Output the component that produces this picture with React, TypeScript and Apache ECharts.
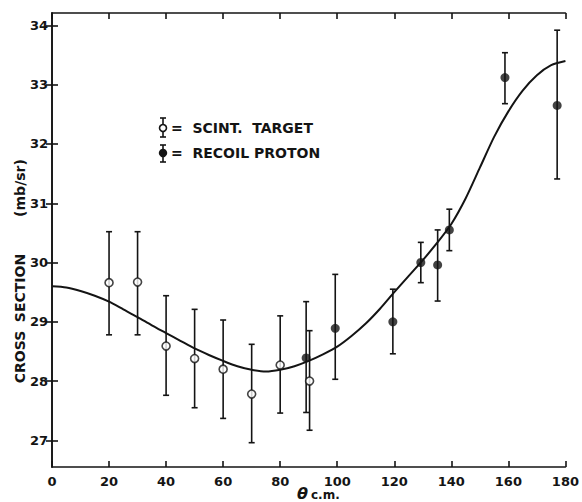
import React, { useEffect, useRef } from "react";
import * as echarts from "echarts";

// Scintillator target (open circles)
const scintTheta = [20, 30, 40, 50, 60, 70, 80, 90.3];
const scintSigma = [29.66, 29.67, 28.59, 28.38, 28.2, 27.78, 28.27, 28.0];
const scintLow = [28.78, 28.78, 27.76, 27.55, 27.37, 26.96, 27.46, 27.17];
const scintHigh = [30.52, 30.52, 29.44, 29.21, 29.03, 28.62, 29.1, 28.85];

// Recoil proton (filled circles)
const recoilTheta = [89.1, 99.3, 119.5, 129.3, 135.2, 139.3, 158.8, 177.1];
const recoilSigma = [28.39, 28.89, 29.0, 30.0, 29.96, 30.55, 33.12, 32.65];
const recoilLow = [27.47, 28.03, 28.46, 29.66, 29.35, 30.2, 32.68, 31.41];
const recoilHigh = [29.34, 29.8, 29.55, 30.34, 30.55, 30.9, 33.54, 33.92];

// Fitted curve (read every 5 degrees)
const curveTheta = [0, 5, 10, 15, 20, 25, 30, 35, 40, 45, 50, 55, 60, 65, 70, 75, 80, 85, 90, 95, 100, 105, 110, 115, 120, 125, 130, 135, 140, 145, 150, 155, 160, 165, 170, 175, 180];
const curveSigma = [29.6, 29.58, 29.52, 29.44, 29.34, 29.21, 29.08, 28.94, 28.81, 28.68, 28.55, 28.44, 28.34, 28.25, 28.19, 28.16, 28.19, 28.25, 28.34, 28.45, 28.58, 28.76, 28.97, 29.22, 29.5, 29.77, 30.04, 30.33, 30.65, 31.08, 31.6, 32.12, 32.55, 32.9, 33.16, 33.33, 33.4];

const yTicks = [27, 28, 29, 30, 31, 32, 33, 34];

const INK = "#141414";
const FONT = "DejaVu Sans";

function errorBarItem(params: any, api: any) {
  const x = api.value(0);
  const lo = api.value(1);
  const hi = api.value(2);
  const p1 = api.coord([x, hi]);
  const p2 = api.coord([x, lo]);
  const w = 3;
  const st = { stroke: INK, lineWidth: 1.6 };
  return {
    type: "group",
    children: [
      { type: "line", shape: { x1: p1[0], y1: p1[1], x2: p2[0], y2: p2[1] }, style: st },
      { type: "line", shape: { x1: p1[0] - w, y1: p1[1], x2: p1[0] + w, y2: p1[1] }, style: st },
      { type: "line", shape: { x1: p2[0] - w, y1: p2[1], x2: p2[0] + w, y2: p2[1] }, style: st },
    ],
  };
}

export default function App() {
  const ref = useRef<HTMLDivElement>(null);
  useEffect(() => {
    if (!ref.current) return;
    const chart = echarts.init(ref.current, null, { renderer: "svg" });
    const axisLine = { show: true, lineStyle: { color: INK, width: 1.6 } };
    const axisTick = { show: true, inside: true, length: 6, lineStyle: { color: INK, width: 1.6 } };
    const titleFont = `bold 14px "${FONT}"`;
    const option: any = {
      animation: false,
      backgroundColor: "#ffffff",
      grid: { left: 52, right: 7, top: 13, bottom: 35, containLabel: false },
      xAxis: [
        {
          type: "value",
          min: 0,
          max: 180,
          interval: 20,
          position: "bottom",
          axisLine,
          axisTick,
          splitLine: { show: false },
          axisLabel: { color: INK, fontFamily: FONT, fontWeight: "bold", fontSize: 13, margin: 8 },
        },
        {
          type: "value",
          min: 0,
          max: 180,
          interval: 20,
          position: "top",
          axisLine,
          axisTick,
          splitLine: { show: false },
          axisLabel: { show: false },
        },
      ],
      yAxis: [
        {
          type: "value",
          min: 26.55,
          max: 34.21,
          position: "left",
          axisLine,
          axisTick: { ...axisTick, customValues: yTicks },
          splitLine: { show: false },
          axisLabel: {
            customValues: yTicks,
            color: INK,
            fontFamily: FONT,
            fontWeight: "bold",
            fontSize: 13,
            margin: 4,
          },
        },
        {
          type: "value",
          min: 26.55,
          max: 34.21,
          position: "right",
          axisLine,
          axisTick: { ...axisTick, customValues: yTicks },
          splitLine: { show: false },
          axisLabel: { show: false, customValues: yTicks },
        },
      ],
      series: [
        {
          type: "line",
          data: curveTheta.map((t, i) => [t, curveSigma[i]]),
          smooth: 0.25,
          symbol: "none",
          lineStyle: { color: INK, width: 2 },
          z: 2,
        },
        {
          type: "custom",
          renderItem: errorBarItem,
          data: scintTheta.map((t, i) => [t, scintLow[i], scintHigh[i]]),
          z: 3,
        },
        {
          type: "custom",
          renderItem: errorBarItem,
          data: recoilTheta.map((t, i) => [t, recoilLow[i], recoilHigh[i]]),
          z: 3,
        },
        {
          type: "scatter",
          data: scintTheta.map((t, i) => [t, scintSigma[i]]),
          symbol: "circle",
          symbolSize: 8,
          itemStyle: { color: "#ffffff", borderColor: INK, borderWidth: 1.6 },
          z: 5,
        },
        {
          type: "scatter",
          data: recoilTheta.map((t, i) => [t, recoilSigma[i]]),
          symbol: "circle",
          symbolSize: 9,
          itemStyle: { color: INK },
          z: 5,
        },
      ],
      graphic: [
        // legend: open
        { type: "line", shape: { x1: 163, y1: 118, x2: 163, y2: 137 }, style: { stroke: INK, lineWidth: 1.6 } },
        { type: "line", shape: { x1: 160, y1: 118, x2: 166, y2: 118 }, style: { stroke: INK, lineWidth: 1.6 } },
        { type: "line", shape: { x1: 160, y1: 137, x2: 166, y2: 137 }, style: { stroke: INK, lineWidth: 1.6 } },
        { type: "circle", shape: { cx: 163, cy: 128, r: 3.5 }, style: { fill: "#fff", stroke: INK, lineWidth: 1.6 } },
        {
          type: "text",
          x: 171,
          y: 128,
          style: { text: "=  SCINT.  TARGET", fill: INK, font: `bold 14px "${FONT}"`, textVerticalAlign: "middle" },
        },
        // legend: filled
        { type: "line", shape: { x1: 163, y1: 145, x2: 163, y2: 162 }, style: { stroke: INK, lineWidth: 1.6 } },
        { type: "line", shape: { x1: 160, y1: 145, x2: 166, y2: 145 }, style: { stroke: INK, lineWidth: 1.6 } },
        { type: "line", shape: { x1: 160, y1: 162, x2: 166, y2: 162 }, style: { stroke: INK, lineWidth: 1.6 } },
        { type: "circle", shape: { cx: 163, cy: 153, r: 4.2 }, style: { fill: INK } },
        {
          type: "text",
          x: 171,
          y: 153,
          style: { text: "=  RECOIL PROTON", fill: INK, font: `bold 14px "${FONT}"`, textVerticalAlign: "middle" },
        },
        // y axis title, word by word
        {
          type: "text",
          x: 20,
          y: 357,
          rotation: Math.PI / 2,
          style: { text: "CROSS", fill: INK, font: titleFont, textAlign: "center", textVerticalAlign: "middle" },
        },
        {
          type: "text",
          x: 20,
          y: 288,
          rotation: Math.PI / 2,
          style: { text: "SECTION", fill: INK, font: titleFont, textAlign: "center", textVerticalAlign: "middle" },
        },
        {
          type: "text",
          x: 20,
          y: 188,
          rotation: Math.PI / 2,
          style: { text: "(mb/sr)", fill: INK, font: titleFont, textAlign: "center", textVerticalAlign: "middle" },
        },
        // x axis title
        {
          type: "text",
          x: 297,
          y: 501,
          style: { text: "θ", fill: INK, font: `italic bold 16px "${FONT}"`, textVerticalAlign: "bottom" },
        },
        {
          type: "text",
          x: 311,
          y: 501,
          style: { text: "c.m.", fill: INK, font: `bold 12px "${FONT}"`, textVerticalAlign: "bottom" },
        },
      ],
    };
    chart.setOption(option);
    return () => chart.dispose();
  }, []);
  return (
    <div
      ref={ref}
      style={{ position: "fixed", left: 0, top: 0, width: 582, height: 502, background: "#fff" }}
    />
  );
}
